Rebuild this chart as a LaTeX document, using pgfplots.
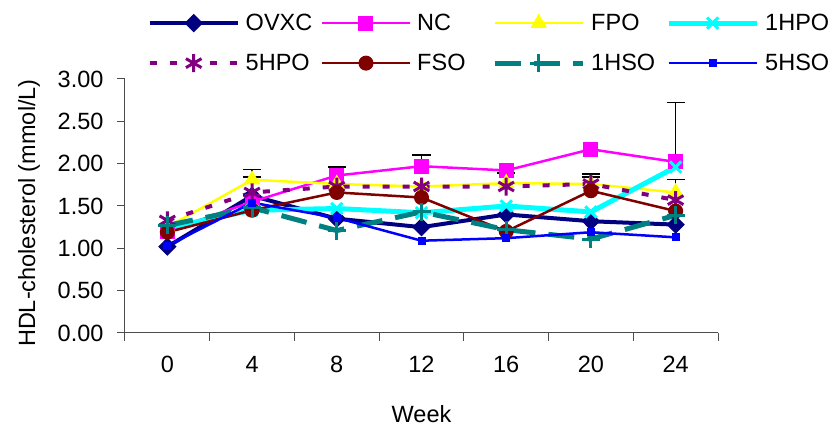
\documentclass[border=0pt]{standalone}
\usepackage{fontspec}
\setmainfont{Liberation Sans}
\usepackage{pgfplots}
\usepackage{pgfplotstable}
\pgfplotsset{compat=1.18}

\definecolor{ovxc}{RGB}{0,0,128}
\definecolor{nc}{RGB}{255,0,255}
\definecolor{fpo}{RGB}{255,255,0}
\definecolor{hpoA}{RGB}{0,255,255}
\definecolor{hpoB}{RGB}{128,0,128}
\definecolor{fso}{RGB}{128,0,0}
\definecolor{hsoA}{RGB}{0,128,128}
\definecolor{hsoB}{RGB}{0,0,255}

% HDL-cholesterol (mmol/L) by week
\pgfplotstableread{
week OVXC NC   FPO  HPOa HPOb FSO  HSOa HSOb
0    1.02 1.20 1.25 1.24 1.33 1.19 1.27 1.03
4    1.62 1.55 1.81 1.45 1.66 1.45 1.48 1.54
8    1.35 1.86 1.76 1.47 1.73 1.66 1.21 1.36
12   1.25 1.97 1.73 1.42 1.73 1.60 1.43 1.09
16   1.40 1.92 1.77 1.50 1.73 1.20 1.22 1.12
20   1.32 2.17 1.76 1.43 1.76 1.68 1.11 1.19
24   1.28 2.02 1.66 1.96 1.57 1.44 1.39 1.13
}\hdl

% upper error bars that can be seen
\pgfplotstableread{
week val  err
4    1.81 0.12
4    1.66 0.18
8    1.86 0.10
12   1.97 0.13
16   1.77 0.12
20   1.76 0.12
20   1.68 0.16
24   2.02 0.70
24   1.66 0.15
}\errs

\begin{document}
\begin{tikzpicture}[font=\fontsize{23.5}{28}\selectfont]
\path[use as bounding box] (-125pt,-97pt) rectangle (710pt,333pt);
\begin{axis}[
  width=593pt, height=254pt, scale only axis,
  xmin=-2, xmax=26, ymin=0, ymax=3,
  axis lines*=left,
  axis line style={-, draw=black!70, line width=1pt},
  tick align=outside,
  major tick length=8pt, minor tick length=8pt,
  xtick={0,4,...,24}, minor xtick={-2,2,...,26},
  ytick={0,0.5,...,3},
  every tick/.append style={draw=black!70, line width=1pt},
  every major x tick/.append style={draw=none},
  yticklabel style={xshift=-10pt, /pgf/number format/.cd, fixed, fixed zerofill, precision=2},
  xticklabel style={yshift=-12pt},
  /pgf/number format/assume math mode=true,
  xlabel={Week}, ylabel={HDL-cholesterol (mmol/L)},
  xlabel style={at={(axis description cs:0.5,-0.32)}, anchor=center},
  ylabel style={at={(axis description cs:-0.162,0.472)}, anchor=center},
  legend columns=4, legend cell align=left,
  legend image code/.code={\draw[mark repeat=2,mark phase=2] plot coordinates {(0pt,0pt) (44pt,0pt) (88pt,0pt)};},
  legend style={draw=none, fill=none, inner sep=0pt,
    at={(axis description cs:0.038,1.264)}, anchor=north west,
    nodes={inner sep=0pt, text width=75pt, text height=18pt, text depth=4pt},
    row sep=18pt,
    /tikz/every odd column/.append style={column sep=6pt}},
]
\addplot[draw=none, forget plot, error bars/.cd, y dir=plus, y explicit,
  error bar style={black, line width=1.5pt},
  error mark options={black, rotate=90, mark size=9pt, line width=1.5pt}]
  table[x=week, y=val, y error=err]{\errs};

\addplot[ovxc, line width=4pt, mark=diamond*, mark size=8.5pt,
  mark options={xscale=1.33, line width=1pt, fill=ovxc}] table[x=week, y=OVXC]{\hdl};
\addplot[nc, line width=2.5pt, mark=square*, mark size=7pt,
  mark options={line width=1pt, fill=nc}] table[x=week, y=NC]{\hdl};
\addplot[fpo, line width=2.5pt, mark=triangle*, mark size=8.5pt,
  mark options={line width=1pt, fill=fpo}] table[x=week, y=FPO]{\hdl};
\addplot[hpoA, line width=5pt, mark=x, mark size=8pt,
  mark options={line width=3pt}] table[x=week, y=HPOa]{\hdl};
\addplot[hpoB, line width=4pt, dash pattern=on 7pt off 13pt, mark=asterisk, mark size=9pt,
  mark options={solid, line width=3pt}] table[x=week, y=HPOb]{\hdl};
\addplot[fso, line width=2.5pt, mark=*, mark size=7pt,
  mark options={line width=1pt, fill=fso}] table[x=week, y=FSO]{\hdl};
\addplot[hsoA, line width=5pt, dash pattern=on 26pt off 13pt, mark=+, mark size=9pt,
  mark options={solid, line width=3pt}] table[x=week, y=HSOa]{\hdl};
\addplot[hsoB, line width=2.5pt, mark=square*, mark size=3.5pt,
  mark options={line width=1pt, fill=hsoB}] table[x=week, y=HSOb]{\hdl};
\legend{OVXC, NC, FPO, 1HPO, 5HPO, FSO, 1HSO, 5HSO}
\end{axis}
\end{tikzpicture}
\end{document}
